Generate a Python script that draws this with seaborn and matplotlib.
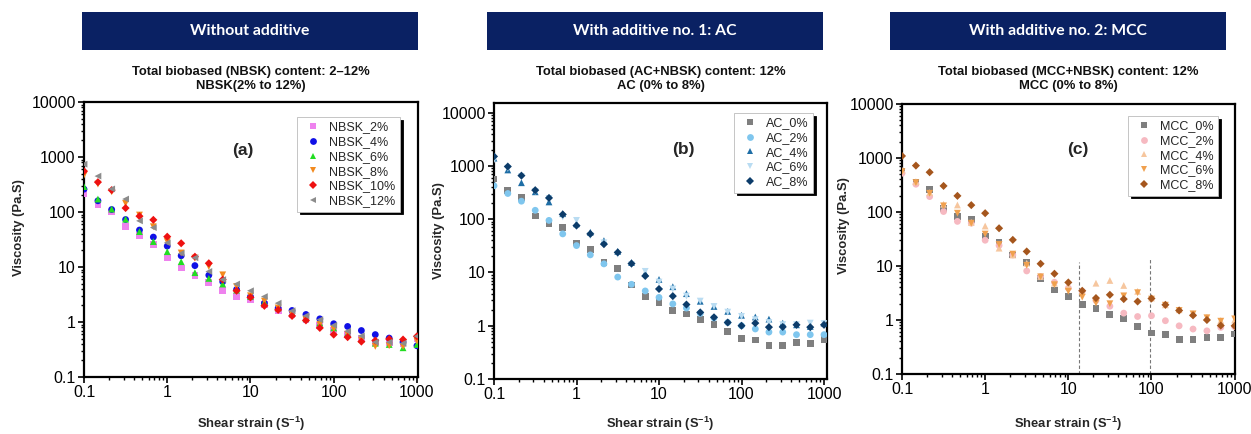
import numpy as np
import pandas as pd
import matplotlib
matplotlib.use("Agg")
import matplotlib.pyplot as plt
import seaborn as sns
from matplotlib.patches import Rectangle
from matplotlib.ticker import FixedLocator, FixedFormatter, LogLocator, NullFormatter

# ---------------- data ----------------
shear = [0.1, 0.147, 0.215, 0.316, 0.464, 0.681, 1, 1.47, 2.15, 3.16, 4.64, 6.81,
         10, 14.7, 21.5, 31.6, 46.4, 68.1, 100, 147, 215, 316, 464, 681, 1000]

# Panel (a) - without additive
nbsk_labels = ["NBSK_2%", "NBSK_4%", "NBSK_6%", "NBSK_8%", "NBSK_10%", "NBSK_12%"]
nbsk_2 = [217, 134, 100, 54, 38, 26, 15, 9.6, 6.9, 5.2, 3.8, 2.95, 2.6, 2.1, 1.6, 1.35,
          1.1, 0.85, 0.7, 0.6, 0.5, 0.42, 0.42, 0.4, 0.5]
nbsk_4 = [260, 160, 111, 73, 47, 35, 24, 16, 10.6, 7.1, 5.4, 3.9, 2.9, 2.2, 1.78, 1.62,
          1.37, 1.14, 0.93, 0.83, 0.70, 0.59, 0.51, 0.43, 0.37]
nbsk_6 = [290, 172, 113, 74, 44, 29, 19, 12.5, 7.9, 6.2, 4.9, 3.8, 2.9, 2.3, 1.8, 1.45,
          1.15, 0.96, 0.78, 0.62, 0.49, 0.41, 0.39, 0.34, 0.39]
nbsk_8 = [465, 321, 233, 143, 88, 54, 29, 18, 14.5, 10.2, 7.2, 4.4, 3.0, 2.4, 1.8, 1.4,
          1.1, 0.9, 0.75, 0.6, 0.47, 0.36, 0.37, 0.36, 0.45]
nbsk_10 = [553, 349, 250, 118, 84, 72, 35.6, 27, 15.4, 11.7, 5.9, 3.7, 2.8, 1.97, 1.66,
           1.29, 1.07, 0.78, 0.59, 0.53, 0.44, 0.46, 0.49, 0.48, 0.55]
nbsk_12 = [740, 449, 263, 172, 69, 52, 27.5, 17.7, 14.7, 8.3, 5.9, 4.9, 3.7, 2.9, 2.2, 1.6,
           1.3, 1.1, 0.87, 0.68, 0.56, 0.43, 0.43, 0.41, 0.55]

# Panel (b) - additive AC
ac_labels = ["AC_0%", "AC_2%", "AC_4%", "AC_6%", "AC_8%"]
ac_0 = [569, 351, 259, 115, 82, 71, 35.8, 27, 15.4, 11.8, 5.8, 3.6, 2.75, 1.95, 1.66, 1.29,
        1.04, 0.77, 0.57, 0.54, 0.43, 0.43, 0.48, 0.47, 0.56]
ac_2 = [425, 304, 218, 147, 95, 53, 32, 21.4, 14.5, 8.2, 6.0, 4.5, 3.4, 2.57, 2.15, 1.7,
        1.4, 1.15, 1.0, 0.87, 0.76, 0.76, 0.68, 0.68, 0.68]
ac_4 = [1400, 841, 484, 327, 211, 127, 82, 57, 39.6, 24.9, 15.4, 9.7, 7.4, 5.4, 4.0, 2.88,
        2.3, 1.86, 1.57, 1.46, 1.33, 1.12, 1.04, 0.97, 1.12]
ac_6 = [1300, 900, 630, 330, 245, 110, 95, 49, 36, 22, 14, 10.5, 6.6, 4.9, 3.6, 2.9,
        2.3, 1.8, 1.5, 1.3, 1.15, 1.05, 1.05, 1.12, 1.1]
ac_8 = [1510, 975, 658, 351, 251, 123, 76, 53, 34, 23.8, 14.7, 8.6, 4.9, 3.6, 2.5, 1.78,
        1.44, 1.15, 1.0, 1.12, 0.94, 0.95, 1.04, 0.94, 1.04]

# Panel (c) - additive MCC
mcc_labels = ["MCC_0%", "MCC_2%", "MCC_4%", "MCC_6%", "MCC_8%"]
mcc_0 = [560, 350, 257, 115, 82, 72, 36, 27, 16, 11.6, 5.8, 3.6, 2.73, 1.97, 1.66, 1.26,
         1.05, 0.77, 0.575, 0.53, 0.43, 0.43, 0.47, 0.47, 0.55]
mcc_2 = [522, 327, 193, 102, 67, 62, 30, 24, 16, 8.1, 6.4, 5.0, 3.9, 3.4, 2.3, 1.8,
         1.34, 1.16, 1.2, 0.97, 0.78, 0.68, 0.63, 0.73, 0.75]
mcc_4 = [600, 366, 229, 139, 135, 64, 55, 21.4, 16, 11.3, 6.4, 4.8, 4.2, 3.4, 4.8, 5.4,
         4.36, 3.4, 2.55, 1.91, 1.55, 1.31, 1.12, 0.98, 1.0]
mcc_6 = [560, 350, 222, 130, 95, 62, 39, 25, 16.6, 10.3, 6.3, 4.5, 3.4, 2.65, 2.06, 2.0,
         2.8, 3.2, 2.44, 1.88, 1.5, 1.3, 1.1, 0.95, 1.05]
mcc_8 = [1090, 723, 545, 304, 199, 134, 95, 50, 30.5, 18.6, 11, 7.2, 4.96, 3.48, 2.55, 2.93,
         2.44, 2.2, 2.5, 1.91, 1.5, 1.22, 1.0, 0.79, 0.78]
mcc_guides = [13.5, 95]          # dashed guide positions (shear strain)
mcc_guide_tops = [12, 14]

headers = ["Without additive", "With additive no. 1: AC", "With additive no. 2: MCC"]
subtitles = ["Total biobased (NBSK) content: 2\u201312%\nNBSK(2% to 12%)",
             "Total biobased (AC+NBSK) content: 12%\nAC (0% to 8%)",
             "Total biobased (MCC+NBSK) content: 12%\nMCC (0% to 8%)"]
panel_tags = ["(a)", "(b)", "(c)"]
y_ticks = [0.1, 1, 10, 100, 1000, 10000]
y_ticklabels = ["0.1", "1", "10", "100", "1000", "10000"]
x_ticks = [0.1, 1, 10, 100, 1000]
x_ticklabels = ["0.1", "1", "10", "100", "1000"]

# ---------------- style ----------------
sns.set_theme(style="ticks")
plt.rcParams["font.family"] = ["Liberation Sans", "DejaVu Sans"]
plt.rcParams["mathtext.fontset"] = "custom"
plt.rcParams["mathtext.rm"] = "Liberation Sans:bold"
plt.rcParams["mathtext.it"] = "Liberation Sans:bold"
plt.rcParams["mathtext.bf"] = "Liberation Sans:bold"

W, H = 1251, 434
fig = plt.figure(figsize=(W / 100, H / 100), dpi=100)


def px_axes(l, t, r, b):
    return fig.add_axes([l / W, 1 - b / H, (r - l) / W, (b - t) / H])


panels = [
    dict(box=(84, 102, 418, 377), ylim=(0.1, 10000), xlim=(0.1, 1030),
         labels=nbsk_labels, series=[nbsk_2, nbsk_4, nbsk_6, nbsk_8, nbsk_10, nbsk_12],
         colors=["#ee82ee", "#1010e6", "#22dd22", "#f28a1e", "#ee1111", "#8c8c8c"],
         markers=["s", "o", "^", "v", "D", "<"],
         leg=(0.946, 0.945), tag=(0.476, 0.825), ylab=(19, 228),
         hdr=(82, 418)),
    dict(box=(494, 103, 827, 379), ylim=(0.1, 15200), xlim=(0.1, 1087),
         labels=ac_labels, series=[ac_0, ac_2, ac_4, ac_6, ac_8],
         colors=["#7f7f7f", "#7fc6ee", "#1f6ea6", "#b9dcf2", "#0c3c6a"],
         markers=["s", "o", "^", "v", "D"],
         leg=(0.958, 0.964), tag=(0.568, 0.83), ylab=(439, 231),
         hdr=(487, 823)),
    dict(box=(902, 104, 1235, 374), ylim=(0.1, 10000), xlim=(0.1, 1010),
         labels=mcc_labels, series=[mcc_0, mcc_2, mcc_4, mcc_6, mcc_8],
         colors=["#7f7f7f", "#f6b9c1", "#f6c69e", "#f0a04e", "#a5561d"],
         markers=["s", "o", "^", "v", "D"],
         leg=(0.949, 0.956), tag=(0.529, 0.83), ylab=(844, 226),
         hdr=(890, 1226)),
]

for i, p in enumerate(panels):
    ax = px_axes(*p["box"])
    n = len(shear)
    df = pd.DataFrame({
        "x": shear * len(p["labels"]),
        "y": sum(p["series"], []),
        "sample": [lab for lab in p["labels"] for _ in range(n)],
    })
    pal = dict(zip(p["labels"], p["colors"]))
    mk = dict(zip(p["labels"], p["markers"]))
    sz = {lab: (17 if m == "D" else 24) for lab, m in zip(p["labels"], p["markers"])}
    sns.scatterplot(data=df, x="x", y="y", hue="sample", style="sample", size="sample",
                    palette=pal, markers=mk, sizes=sz, linewidth=0, ax=ax,
                    legend=True, zorder=3)
    ax.set_xscale("log")
    ax.set_yscale("log")
    ax.set_xlim(*p["xlim"])
    ax.set_ylim(*p["ylim"])

    if i == 2:
        for gx, gt in zip(mcc_guides, mcc_guide_tops):
            ax.vlines(gx, p["ylim"][0], gt, colors="#777777", linestyles=(0, (3, 2)),
                      linewidth=0.8, zorder=1)

    ax.yaxis.set_major_locator(FixedLocator(y_ticks))
    ax.yaxis.set_major_formatter(FixedFormatter(y_ticklabels))
    ax.xaxis.set_major_locator(FixedLocator(x_ticks))
    ax.xaxis.set_major_formatter(FixedFormatter(x_ticklabels))
    ax.yaxis.set_minor_locator(LogLocator(base=10, subs=np.arange(2, 10), numticks=20))
    ax.xaxis.set_minor_locator(LogLocator(base=10, subs=np.arange(2, 10), numticks=20))
    ax.xaxis.set_minor_formatter(NullFormatter())
    ax.yaxis.set_minor_formatter(NullFormatter())
    ax.tick_params(which="major", direction="out", length=4, width=1.2,
                   labelsize=11.5, colors="black", pad=2)
    ax.tick_params(which="minor", direction="out", length=2, width=1.0, colors="black")
    for s in ax.spines.values():
        s.set_linewidth(1.6)
        s.set_color("black")

    ax.set_xlabel("")
    ax.set_ylabel("")
    cx_px = (p["box"][0] + p["box"][2]) / 2
    fig.text(cx_px / W, 1 - 424 / H, "Shear strain (S$^{-1}$)", fontsize=9.4,
             fontweight="bold", ha="center", va="center")
    fig.text(p["ylab"][0] / W, 1 - p["ylab"][1] / H, "Viscosity (Pa.S)", fontsize=9.4,
             fontweight="bold", ha="center", va="center", rotation=90)

    ax.text(p["tag"][0], p["tag"][1], panel_tags[i], transform=ax.transAxes,
            fontsize=12.5, fontweight="bold", ha="center", va="center")

    handles, labels = ax.get_legend_handles_labels()
    leg = ax.legend(handles, labels, loc="upper right", bbox_to_anchor=p["leg"],
                    frameon=True, fancybox=False, fontsize=9,
                    shadow={"color": "black", "alpha": 1.0},
                    handletextpad=0.4, labelspacing=0.22, borderpad=0.35,
                    handlelength=1.8, borderaxespad=0, markerscale=1.0)
    leg.get_frame().set_edgecolor("#bbbbbb")
    leg.get_frame().set_linewidth(0.6)
    leg.get_frame().set_alpha(1)

    # header box
    hl, hr = p["hdr"]
    fig.patches.append(Rectangle((hl / W, 1 - 50 / H), (hr - hl) / W, 38 / H,
                                 transform=fig.transFigure, facecolor="#0a2163",
                                 edgecolor="none"))
    fig.text((hl + hr) / 2 / W, 1 - 31 / H, headers[i], color="white",
             fontsize=11.3, fontweight="bold", family=["Lato", "DejaVu Sans"],
             ha="center", va="center")
    fig.text(cx_px / W, 1 - 79 / H, subtitles[i], ha="center", va="center",
             fontsize=9.4, fontweight="bold", linespacing=1.3, color="#111111")

fig.savefig("out.png", dpi=100)
